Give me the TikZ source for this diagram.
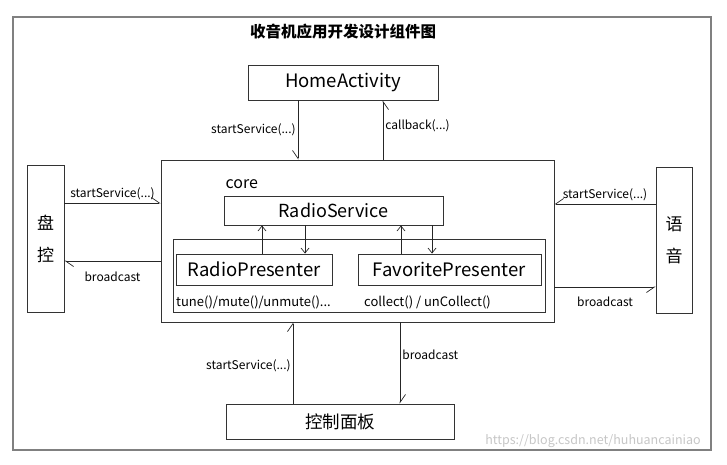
\documentclass[tikz,border=0pt]{standalone}
\usepackage{fontspec}
\setmainfont{Noto Sans CJK SC}
\usetikzlibrary{arrows.meta}

\begin{document}
\begin{tikzpicture}[x=1pt,y=-1pt,
        box/.style={draw=black!80,line width=0.9pt,inner sep=0pt},
        lbl/.style={font=\fontsize{12}{14}\selectfont,inner sep=2pt},
        ops/.style={font=\fontsize{13}{15}\selectfont,inner sep=0pt},
        halfl/.style={draw=black!85,line width=0.7pt,-{Straight Barb[left,length=8pt,width=11pt]}},
        halfr/.style={draw=black!85,line width=0.7pt,-{Straight Barb[right,length=8pt,width=11pt]}},
        full/.style={draw=black!85,line width=0.7pt,-{Straight Barb[length=5pt,width=8pt]}}]
        \useasboundingbox (0,0) rectangle (727,464);
        \draw[gray,line width=1.6pt] (13,17) rectangle (711,450);

        \node[font=\bfseries\fontsize{15.5}{18}\selectfont] (title) at (343,32) {收音机应用开发设计组件图};

        \node[box,minimum width=190pt,minimum height=35pt,font=\fontsize{18.5}{20}\selectfont] (home) at (343,82.5) {HomeActivity};
        \node[box,minimum width=393pt,minimum height=162pt] (core) at (357.5,241) {};
        \node[font=\fontsize{16}{18}\selectfont,anchor=west] (corelbl) at (222,184) {core};
        \node[box,minimum width=219pt,minimum height=29pt,font=\fontsize{18}{20}\selectfont] (service) at (333.5,210.5) {RadioService};
        \node[box,minimum width=372pt,minimum height=73pt] (group) at (359,275.5) {};
        \node[box,minimum width=156pt,minimum height=31pt,font=\fontsize{18.5}{20}\selectfont] (rp) at (254,269.5) {RadioPresenter};
        \node[box,minimum width=183pt,minimum height=31pt,font=\fontsize{18.5}{20}\selectfont] (fp) at (449.5,269.5) {FavoritePresenter};
        \node[ops,anchor=west] (rpops) at (176,302) {tune()/mute()/unmute()...};
        \node[ops,anchor=west] (fpops) at (364,302) {collect() / unCollect()};

        \node[box,minimum width=37pt,minimum height=147pt,align=center,font=\fontsize{17}{32}\selectfont] (pan) at (45.5,238.5) {盘\\控};
        \node[box,minimum width=36pt,minimum height=146pt,align=center,font=\fontsize{17}{32}\selectfont] (yu) at (674,240) {语\\音};
        \node[box,minimum width=228pt,minimum height=35pt,font=\fontsize{17.5}{19}\selectfont] (panel) at (340,421.5) {控制面板};

        \node[text=gray!45,font=\fontsize{12.5}{14}\selectfont] (mark) at (593,441) {https://blog.csdn.net/huhuancainiao};

        \path ([xshift=-45pt]home.south) edge[halfr] node[lbl,left] {startService(...)} ([xshift=-59.5pt]core.north)
              ([xshift=25.5pt]core.north) edge[halfr] node[lbl,right,pos=0.58] {callback(...)} ([xshift=40pt]home.south)
              ([yshift=35.5pt]pan.east) edge[halfl] node[lbl,above=1pt] {startService(...)} ([yshift=38pt]core.west)
              ([yshift=-20pt]core.west) edge[halfl] node[lbl,below=9pt] {broadcast} ([yshift=-22.5pt]pan.east)
              ([yshift=36pt]yu.west) edge[halfr] node[lbl,above=1pt] {startService(...)} ([yshift=37pt]core.east)
              ([yshift=-46pt]core.east) edge[halfr] node[lbl,below=8pt] {broadcast} ([yshift=-47pt]yu.west)
              ([xshift=-47pt]panel.north) edge[halfl] node[lbl,left,pos=0.47] {startService(...)} ([xshift=-64.5pt]core.south)
              ([xshift=42.5pt]core.south) edge[halfl] node[lbl,right,pos=0.4] {broadcast} ([xshift=60pt]panel.north);

        \path ([xshift=8pt]rp.north) edge[full] ([xshift=-71.5pt]service.south)
              ([xshift=-28.5pt]service.south) edge[full] ([xshift=51pt]rp.north)
              ([xshift=-48.5pt]fp.north) edge[full] ([xshift=67.5pt]service.south)
              ([xshift=98.5pt]service.south) edge[full] ([xshift=-17.5pt]fp.north);

    \end{tikzpicture}
\end{document}
